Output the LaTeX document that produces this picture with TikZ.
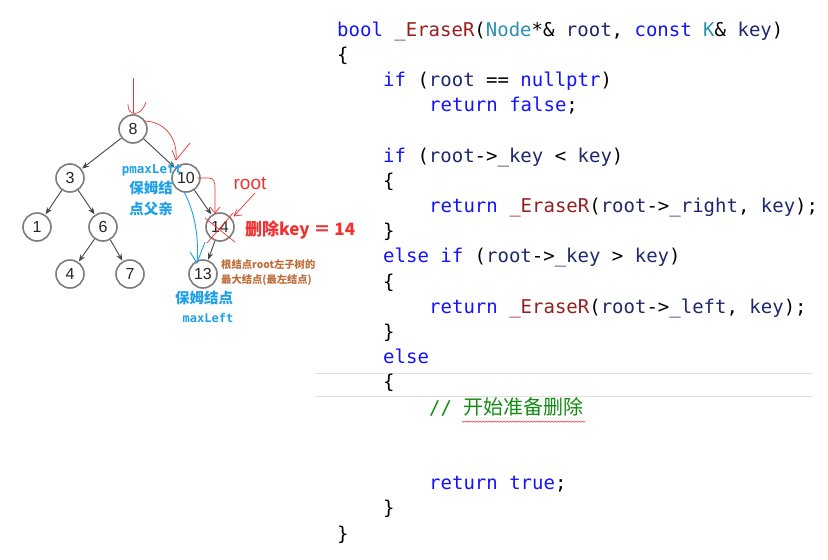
\documentclass[tikz,border=0pt]{standalone}
\usepackage{fontspec}
\setmainfont{Liberation Sans}
\setmonofont{DejaVu Sans Mono}
\newfontfamily\cjk{Noto Sans CJK SC}
\usetikzlibrary{arrows.meta}
\definecolor{kwc}{RGB}{20,20,250}
\definecolor{fnc}{RGB}{150,30,30}
\definecolor{tyc}{RGB}{43,145,175}
\definecolor{vac}{RGB}{31,40,110}
\definecolor{cmc}{RGB}{20,140,20}
\definecolor{annred}{RGB}{240,50,50}
\definecolor{annblue}{RGB}{30,160,230}
\definecolor{annbrown}{RGB}{190,110,60}
\definecolor{nodegray}{RGB}{125,125,125}
\definecolor{edgegray}{RGB}{70,70,70}
\newcommand{\kw}[1]{\textcolor{kwc}{#1}}
\newcommand{\fn}[1]{\textcolor{fnc}{#1}}
\newcommand{\ty}[1]{\textcolor{tyc}{#1}}
\newcommand{\va}[1]{\textcolor{vac}{#1}}
\tikzset{
  tnode/.style={circle,draw=nodegray,line width=1.6pt,minimum size=28pt,inner sep=0pt,font=\fontsize{16}{16}\selectfont,text=black!85},
  tedge/.style={draw=edgegray,line width=0.9pt,-{Stealth[length=7pt,width=5.5pt]},shorten >=0.5pt},
  codeline/.style={anchor=base west,inner sep=0pt,font=\ttfamily\fontsize{19}{19}\selectfont},
  redpen/.style={draw=annred,line width=0.7pt},
  bluepen/.style={draw=annblue,line width=0.9pt},
}
\begin{document}
\begin{tikzpicture}[x=1pt,y=-1pt]
\useasboundingbox (0,0) rectangle (828,560);
\fill[white] (0,0) rectangle (828,560);
% current line highlight
\draw[black!12,line width=1pt] (315,373) -- (812,373);
\draw[black!12,line width=1pt] (315,396) -- (812,396);
% tree
\node[tnode] (n8) at (133,129) {8};
\node[tnode] (n3) at (70,178) {3};
\node[tnode] (n10) at (186,178) {10};
\node[tnode] (n1) at (37,227) {1};
\node[tnode] (n6) at (103,227) {6};
\node[tnode] (n14) at (220,227) {14};
\node[tnode] (n4) at (70,274) {4};
\node[tnode] (n7) at (130,274) {7};
\node[tnode] (n13) at (203,274) {13};
\draw[tedge] (n8) -- (n3);
\draw[tedge] (n8) -- (n10);
\draw[tedge] (n3) -- (n1);
\draw[tedge] (n3) -- (n6);
\draw[tedge] (n6) -- (n4);
\draw[tedge] (n6) -- (n7);
\draw[tedge] (n10) -- (n14);
\draw[tedge] (n14) -- (n13);
% red annotations
\coordinate (topstart) at (133,78);
\coordinate (toptip) at (133,113);
\draw[redpen] (topstart) -- (toptip);
\draw[redpen] (128,104) .. controls (127,116) and (141,118) .. (146,102);
\draw[redpen] (145,121) .. controls (165,122) and (178,138) .. (176,160);
\draw[redpen] (172,150) -- (176,160) -- (190,143);
\draw[redpen] (197,178) -- (209,178) .. controls (214,178) and (215,182) .. (215,188) -- (215,213);
\draw[redpen] (210,207) -- (215,213) -- (220,207);
\node[text=annred,font=\fontsize{19}{19}\selectfont,inner sep=0pt] (rootlbl) at (250,183) {root};
\draw[redpen] (255,193) -- (234,216);
\draw[redpen] (237,209) -- (234,216) -- (242,215);
\draw[redpen] (205,218) -- (235,242);
\draw[redpen] (207,243) -- (233,213);
\node[text=annred,font=\cjk\bfseries\fontsize{17}{17}\selectfont,inner sep=0pt,anchor=west] (dellbl) at (245,230) {删除key ＝ 14};
% brown
\node[text=annbrown,font=\cjk\bfseries\fontsize{10.3}{10.3}\selectfont,inner sep=0pt,anchor=west] (br1) at (221,265) {根结点root左子树的};
\node[text=annbrown,font=\cjk\bfseries\fontsize{10.3}{10.3}\selectfont,inner sep=0pt,anchor=west] (br2) at (221,280) {最大结点(最左结点)};
% blue
\node[text=annblue,font=\ttfamily\bfseries\fontsize{12.5}{12.5}\selectfont,inner sep=0pt] (pml) at (152,170) {pmaxLeft};
\node[text=annblue,font=\cjk\bfseries\fontsize{14.5}{14.5}\selectfont,inner sep=0pt] (pb1) at (151,188) {保姆结};
\node[text=annblue,font=\cjk\bfseries\fontsize{14.5}{14.5}\selectfont,inner sep=0pt] (pb2) at (151,209) {点父亲};
\node[text=annblue,font=\cjk\bfseries\fontsize{14.5}{14.5}\selectfont,inner sep=0pt] (mb1) at (204,298) {保姆结点};
\node[text=annblue,font=\ttfamily\bfseries\fontsize{12}{12}\selectfont,inner sep=0pt] (ml) at (208,318) {maxLeft};
\draw[bluepen] (184,192) .. controls (195,212) and (199,238) .. (197,263);
\draw[bluepen] (190,252) -- (197,263) -- (205,242);
% code
\node[codeline] (c1) at (337,36) {\kw{bool} \fn{\_EraseR}(\ty{Node}*\& \va{root}, \kw{const} \ty{K}\& \va{key})};
\node[codeline] (c2) at (337,61.2) {\{};
\node[codeline] (c3) at (383,86.4) {\kw{if} (\va{root} == \kw{nullptr})};
\node[codeline] (c4) at (429,111.6) {\kw{return} \kw{false};};
\node[codeline] (c6) at (383,162) {\kw{if} (\va{root}->\va{\_key} < \va{key})};
\node[codeline] (c7) at (383,187.2) {\{};
\node[codeline] (c8) at (429,212.4) {\kw{return} \fn{\_EraseR}(\va{root}->\va{\_right}, \va{key});};
\node[codeline] (c9) at (383,237.6) {\}};
\node[codeline] (c10) at (383,262.8) {\kw{else} \kw{if} (\va{root}->\va{\_key} > \va{key})};
\node[codeline] (c11) at (383,288) {\{};
\node[codeline] (c12) at (429,313.2) {\kw{return} \fn{\_EraseR}(\va{root}->\va{\_left}, \va{key});};
\node[codeline] (c13) at (383,338.4) {\}};
\node[codeline] (c14) at (383,363.6) {\kw{else}};
\node[codeline] (c15) at (383,388.8) {\{};
\node[codeline] (c16) at (429,414) {\textcolor{cmc}{// {\cjk\fontsize{20}{20}\selectfont 开始准备删除}}};
\node[codeline] (c19) at (429,489.6) {\kw{return} \kw{true};};
\node[codeline] (c20) at (383,514.8) {\}};
\node[codeline] (c21) at (337,540) {\}};
% squiggle under comment
\draw[annred,line width=0.5pt] (462,421) \foreach \i in {0,...,40} { -- ({462+\i*3+1.5},{421+1.2}) -- ({462+\i*3+3},421)};
\end{tikzpicture}
\end{document}
